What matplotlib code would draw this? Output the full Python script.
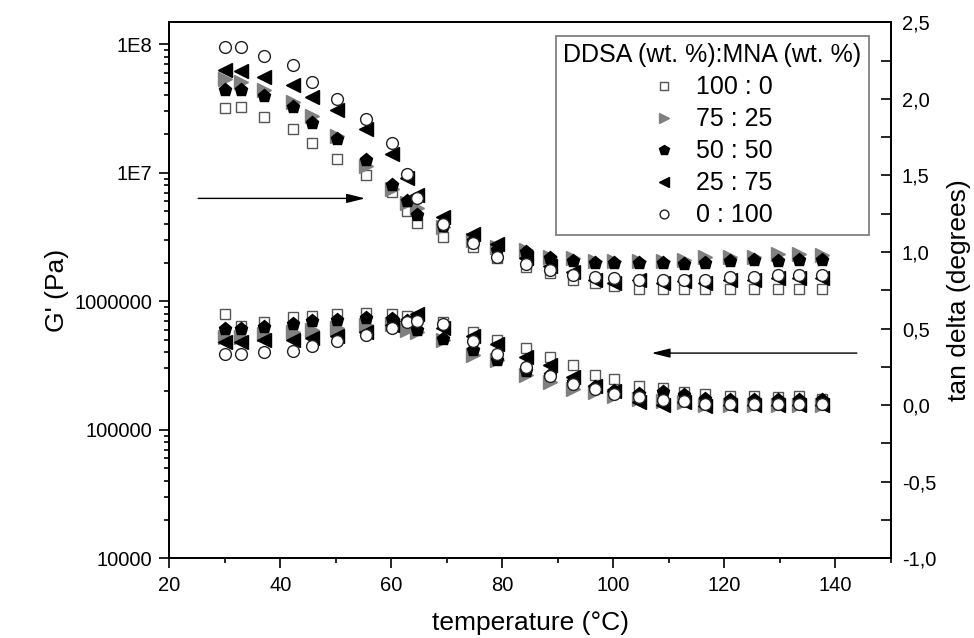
import matplotlib

matplotlib.use("Agg")
import matplotlib.pyplot as plt
from matplotlib.lines import Line2D
from matplotlib.ticker import FixedLocator, FuncFormatter, LogLocator, NullFormatter

plt.rcParams["font.family"] = ["Liberation Sans", "DejaVu Sans"]

# temperature sweep (°C), shared by all five blends
temperature = [30.0, 33.0, 37.1, 42.3, 45.7, 50.3, 55.4, 60.1, 62.9, 64.7, 69.4,
               74.7, 79.0, 84.3, 88.6, 92.7, 96.7, 100.2, 104.6, 109.0, 112.7,
               116.6, 121.0, 125.4, 129.6, 133.5, 137.7]

blends = ["100 : 0", "75 : 25", "50 : 50", "25 : 75", "0 : 100"]

# upper curves -> right axis (tan delta)
tan_100_0 = [1.94, 1.95, 1.88, 1.80, 1.71, 1.61, 1.50, 1.39, 1.27, 1.19, 1.10, 1.03, 0.96, 0.90,
             0.86, 0.82, 0.80, 0.78, 0.76, 0.76, 0.76, 0.76, 0.76, 0.76, 0.76, 0.76, 0.76]
tan_75_25 = [2.13, 2.11, 2.06, 1.98, 1.89, 1.76, 1.56, 1.41, 1.32, 1.29, 1.16, 1.08, 1.03, 1.01,
             0.97, 0.96, 0.94, 0.94, 0.94, 0.94, 0.95, 0.97, 0.97, 0.97, 0.99, 0.99, 0.98]
tan_50_50 = [2.06, 2.06, 2.02, 1.95, 1.84, 1.74, 1.60, 1.44, 1.33, 1.24, 1.17, 1.07, 1.01, 1.00,
             0.96, 0.94, 0.93, 0.93, 0.93, 0.93, 0.92, 0.93, 0.94, 0.95, 0.94, 0.95, 0.95]
tan_25_75 = [2.19, 2.18, 2.14, 2.09, 2.01, 1.93, 1.80, 1.64, 1.48, 1.37, 1.23, 1.12, 1.05, 0.96,
             0.91, 0.87, 0.82, 0.80, 0.82, 0.80, 0.81, 0.80, 0.82, 0.82, 0.83, 0.83, 0.83]
tan_0_100 = [2.34, 2.34, 2.28, 2.22, 2.11, 2.00, 1.87, 1.71, 1.51, 1.35, 1.18, 1.06, 0.97, 0.92,
             0.88, 0.85, 0.84, 0.83, 0.82, 0.82, 0.82, 0.82, 0.84, 0.84, 0.85, 0.85, 0.85]

# lower curves -> left axis (G', Pa)
g_100_0 = [7.98e5, 6.44e5, 6.95e5, 7.52e5, 7.73e5, 7.98e5, 8.11e5, 7.98e5, 7.73e5, 7.55e5,
           6.91e5, 5.81e5, 4.95e5, 4.32e5, 3.68e5, 3.17e5, 2.69e5, 2.50e5, 2.19e5, 2.10e5,
           1.97e5, 1.89e5, 1.82e5, 1.82e5, 1.80e5, 1.82e5, 1.75e5]
g_75_25 = [5.26e5, 5.27e5, 5.58e5, 5.75e5, 6.02e5, 6.18e5, 6.55e5, 6.67e5, 5.92e5, 5.78e5,
           5.01e5, 3.79e5, 3.51e5, 2.67e5, 2.34e5, 2.08e5, 1.95e5, 1.84e5, 1.75e5, 1.66e5,
           1.63e5, 1.57e5, 1.57e5, 1.57e5, 1.57e5, 1.57e5, 1.57e5]
g_50_50 = [6.10e5, 6.10e5, 6.29e5, 6.67e5, 7.07e5, 7.20e5, 7.38e5, 7.29e5, 7.03e5, 5.92e5,
           5.04e5, 4.14e5, 3.46e5, 2.88e5, 2.69e5, 2.37e5, 2.17e5, 2.02e5, 1.91e5, 1.97e5,
           1.85e5, 1.72e5, 1.69e5, 1.69e5, 1.69e5, 1.69e5, 1.69e5]
g_25_75 = [4.81e5, 4.81e5, 4.95e5, 4.95e5, 5.17e5, 5.41e5, 5.81e5, 6.55e5, 7.03e5, 7.98e5,
           6.18e5, 5.41e5, 4.62e5, 3.68e5, 3.17e5, 2.58e5, 2.20e5, 2.02e5, 1.65e5, 1.57e5,
           1.63e5, 1.54e5, 1.57e5, 1.57e5, 1.57e5, 1.57e5, 1.57e5]
g_0_100 = [3.90e5, 3.88e5, 4.02e5, 4.09e5, 4.45e5, 4.90e5, 5.48e5, 6.21e5, 6.95e5, 7.07e5,
           6.67e5, 4.93e5, 3.89e5, 3.08e5, 2.60e5, 2.28e5, 2.06e5, 1.90e5, 1.80e5, 1.69e5,
           1.66e5, 1.58e5, 1.58e5, 1.58e5, 1.58e5, 1.58e5, 1.58e5]

tan_series = [tan_100_0, tan_75_25, tan_50_50, tan_25_75, tan_0_100]
g_series = [g_100_0, g_75_25, g_50_50, g_25_75, g_0_100]

# marker, size, face, edge
STYLES = [
    ("s", 7.5, "white", "#555555"),
    (">", 9.5, "#808080", "#808080"),
    ("p", 9.5, "black", "black"),
    ("<", 9.5, "black", "black"),
    ("o", 8.5, "white", "#222222"),
]

fig = plt.figure(figsize=(9.74, 6.38), dpi=100)
ax = fig.add_axes([0.1738, 0.1249, 0.7407, 0.8402])
ax2 = ax.twinx()

for vals, (m, ms, fc, ec) in zip(g_series, STYLES):
    ax.plot(temperature, vals, ls="none", marker=m, ms=ms, mfc=fc, mec=ec, mew=1.0)
for vals, (m, ms, fc, ec) in zip(tan_series, STYLES):
    ax2.plot(temperature, vals, ls="none", marker=m, ms=ms, mfc=fc, mec=ec, mew=1.0)

ax.set_xlim(20, 150)
ax.set_yscale("log")
ax.set_ylim(1e4, 1.48e8)
ax2.set_ylim(-1.0, 2.5)

# ticks
ax.set_xticks([20, 40, 60, 80, 100, 120, 140])
ax.xaxis.set_minor_locator(FixedLocator([30, 50, 70, 90, 110, 130, 150]))
ax.yaxis.set_major_locator(FixedLocator([1e4, 1e5, 1e6, 1e7, 1e8]))
ax.yaxis.set_minor_locator(LogLocator(base=10, subs=range(2, 10)))
ax.yaxis.set_minor_formatter(NullFormatter())
left_labels = {1e4: "10000", 1e5: "100000", 1e6: "1000000", 1e7: "1E7", 1e8: "1E8"}
ax.yaxis.set_major_formatter(FuncFormatter(lambda v, p: left_labels.get(v, "")))
ax2.set_yticks([-1.0, -0.5, 0.0, 0.5, 1.0, 1.5, 2.0, 2.5])
ax2.yaxis.set_minor_locator(FixedLocator([-0.75, -0.25, 0.25, 0.75, 1.25, 1.75, 2.25]))
ax2.yaxis.set_major_formatter(FuncFormatter(lambda v, p: f"{v:.1f}".replace(".", ",")))

ax.tick_params(axis="both", which="major", direction="out", length=7, width=1.2,
               labelsize=14.5, right=False, top=False)
ax.tick_params(axis="x", which="major", pad=6)
ax.tick_params(axis="y", which="major", pad=5)
ax.tick_params(axis="both", which="minor", direction="out", length=3.5, width=1.2,
               right=False, top=False)
ax2.tick_params(axis="y", which="both", direction="in", length=7, width=1.2,
                labelsize=14.5, pad=8)

for a in (ax, ax2):
    for s in a.spines.values():
        s.set_linewidth(1.3)

ax.set_xlabel("temperature (°C)", fontsize=19, labelpad=11)
ax.set_ylabel("G' (Pa)", fontsize=19, labelpad=4)
ax2.set_ylabel("tan delta (degrees)", fontsize=19, labelpad=8)

# arrows pointing to the axis each group belongs to
arrow = dict(arrowstyle="-|>,head_length=0.8,head_width=0.2", color="black",
             lw=1.0, mutation_scale=14, shrinkA=0, shrinkB=0)
ax2.annotate("", xy=(55.3, 1.35), xytext=(25.2, 1.35), arrowprops=arrow)
ax2.annotate("", xy=(106.9, 0.34), xytext=(143.9, 0.34), arrowprops=arrow)

handles = [Line2D([], [], ls="none", marker=m, ms=ms, mfc=fc, mec=ec, mew=1.0)
           for (m, ms, fc, ec) in STYLES]
leg = ax2.legend(handles, blends, title="DDSA (wt. %):MNA (wt. %)",
                 loc="upper right", bbox_to_anchor=(0.892, 0.9436),
                 bbox_transform=fig.transFigure, borderaxespad=0,
                 fontsize=18, title_fontsize=18, markerscale=0.75,
                 handlelength=1.0, handletextpad=0.8, labelspacing=0.32,
                 borderpad=0.3, fancybox=False, framealpha=1)
leg.get_frame().set_edgecolor("#808080")
leg.get_frame().set_linewidth(1.3)

fig.savefig("out.png", dpi=100)
